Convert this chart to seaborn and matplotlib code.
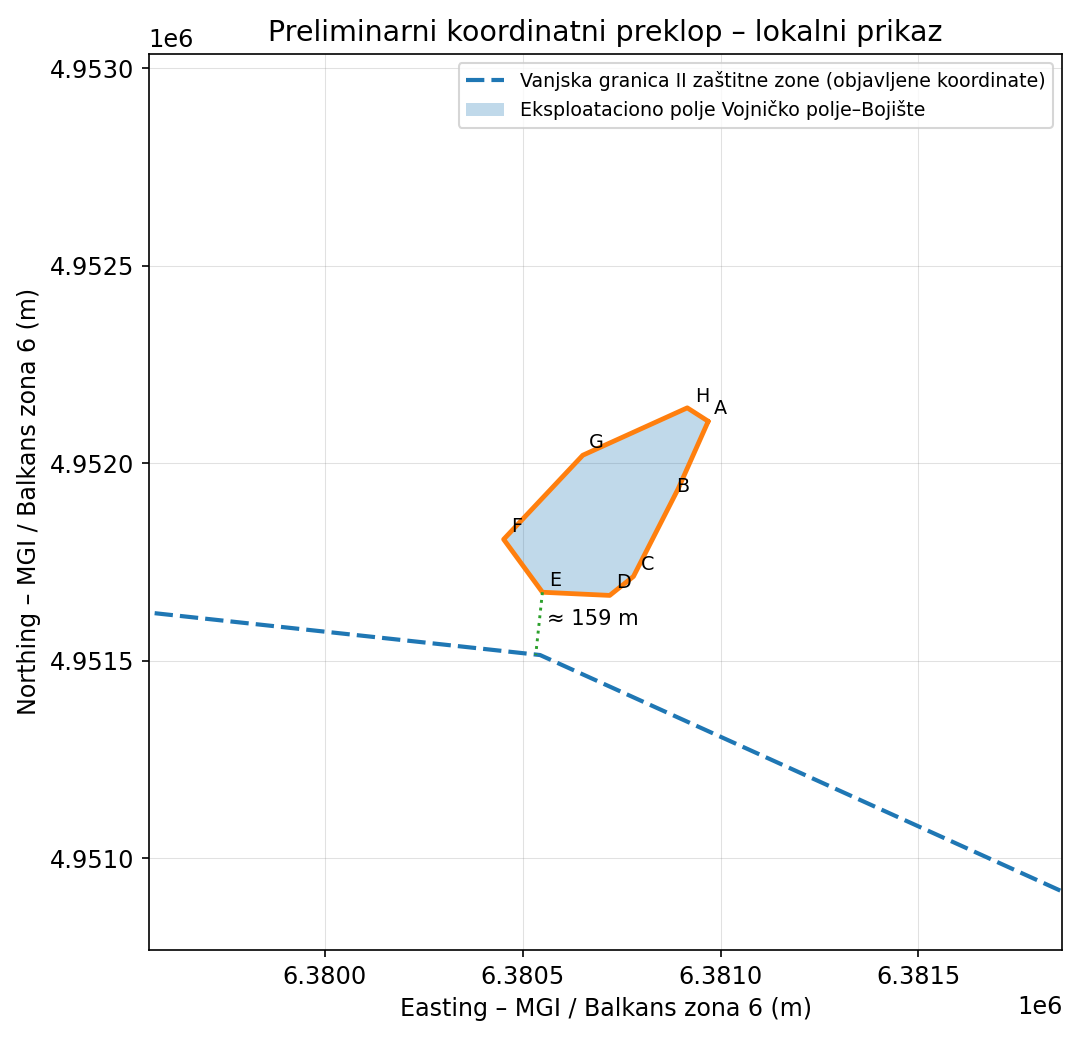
import numpy as np
import pandas as pd
import seaborn as sns
import matplotlib
matplotlib.use('Agg')
import matplotlib.pyplot as plt

# polygon corners of the exploitation field
poly_names = ['A', 'B', 'C', 'D', 'E', 'F', 'G', 'H']
poly_e = [6380969, 6380893, 6380780, 6380720, 6380550, 6380452, 6380652, 6380916]
poly_n = [4952106, 4951935, 4951713, 4951665, 4951673, 4951807, 4952020, 4952140]

# label anchor values for the corner letters
label_e = [6380984, 6380888, 6380798, 6380737, 6380567, 6380472, 6380668, 6380935]
label_n = [4952124, 4951928, 4951730, 4951685, 4951690, 4951825, 4952038, 4952155]

# outer boundary of zone II
zone_e = [6379570, 6380544, 6381864]
zone_n = [4951620, 4951514, 4950915]

# shortest distance segment
dist_e = [6380550, 6380533]
dist_n = [4951673, 4951514]

df = pd.DataFrame({'e': zone_e, 'n': zone_n})

sns.set_style('ticks', rc={'axes.edgecolor': 'black', 'text.color': 'black',
                           'axes.labelcolor': 'black', 'xtick.color': 'black',
                           'ytick.color': 'black'})
plt.rcParams['font.family'] = ['DejaVu Sans']

fig, ax = plt.subplots(figsize=(7.2, 6.947), dpi=150)
sns.lineplot(data=df, x='e', y='n', sort=False, estimator=None, ax=ax, color='#1f77b4',
             linewidth=2, dashes=(4.4, 1.7), label='Vanjska granica II zaštitne zone (objavljene koordinate)')
ax.fill(poly_e, poly_n, color='#1f77b4', alpha=0.28, linewidth=0, label='Eksploataciono polje Vojničko polje–Bojište')
ax.plot(poly_e + poly_e[:1], poly_n + poly_n[:1], color='#ff7f0e', linewidth=2.3)
ax.plot(dist_e, dist_n, color='#2ca02c', linestyle=':', linewidth=1.4)

for name, x, y in zip(poly_names, label_e, label_n):
    ax.text(x, y, name, fontsize=9.2)
ax.text(6380562, 4951590, '≈ 159 m', fontsize=10.1)

ax.set_xlim(6379555, 6381864)
ax.set_ylim(4950767, 4953037)
ax.grid(True, linewidth=0.5, alpha=0.25, color='#888888')
ax.set_xticks([6380000, 6380500, 6381000, 6381500])
ax.set_yticks([4951000, 4951500, 4952000, 4952500, 4953000])
ax.ticklabel_format(useOffset=False, style='sci', scilimits=(6, 6))
ax.tick_params(labelsize=11.5)
ax.xaxis.get_offset_text().set_fontsize(11.5)
ax.yaxis.get_offset_text().set_fontsize(11.5)
ax.set_xlabel('Easting – MGI / Balkans zona 6 (m)', fontsize=11.4)
ax.set_ylabel('Northing – MGI / Balkans zona 6 (m)', fontsize=11.4)
ax.set_title('Preliminarni koordinatni preklop – lokalni prikaz', fontsize=13.7)
ax.legend(loc='upper right', fontsize=9.15)

fig.subplots_adjust(left=148.7/1080, right=1062.4/1080, top=1-53.7/1042, bottom=1-950/1042)
fig.savefig('out.png', dpi=150)
